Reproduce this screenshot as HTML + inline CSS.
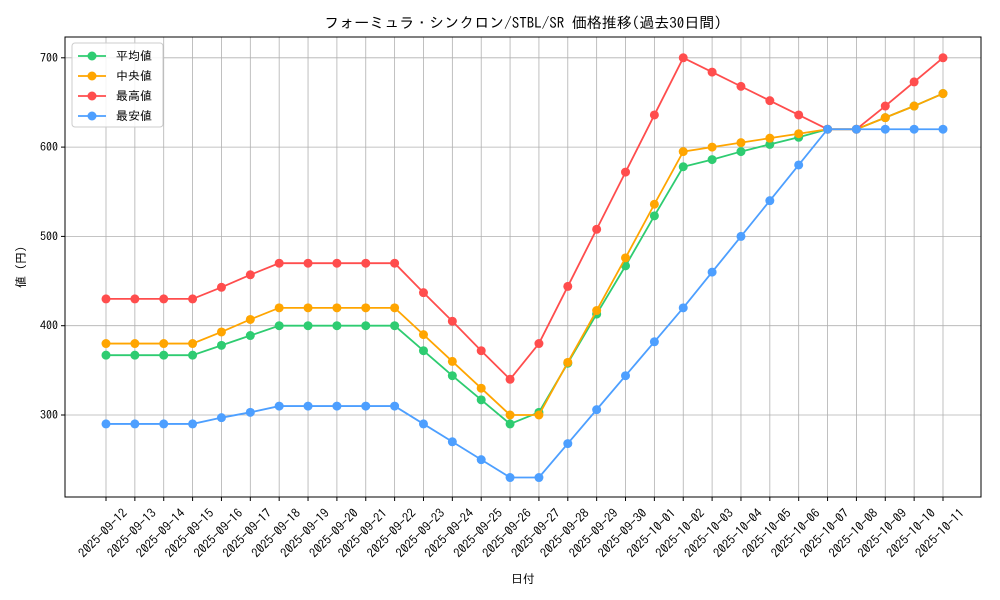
<!DOCTYPE html>
<html><head><meta charset="utf-8"><style>
html,body{margin:0;padding:0;background:#fff;}
svg{display:block;font-family:"IPAGothic","Noto Sans CJK JP",sans-serif;}
</style></head><body>
<svg id="chart" width="1000" height="600" viewBox="0 0 1000 600" xmlns="http://www.w3.org/2000/svg"></svg>
<script>
const dates=["2025-09-12","2025-09-13","2025-09-14","2025-09-15","2025-09-16","2025-09-17","2025-09-18","2025-09-19","2025-09-20","2025-09-21","2025-09-22","2025-09-23","2025-09-24","2025-09-25","2025-09-26","2025-09-27","2025-09-28","2025-09-29","2025-09-30","2025-10-01","2025-10-02","2025-10-03","2025-10-04","2025-10-05","2025-10-06","2025-10-07","2025-10-08","2025-10-09","2025-10-10","2025-10-11"];
const avgVals=[367,367,367,367,378,389,400,400,400,400,400,372,344,317,290,303,358,413,467,523,578,586,595,603,611,620,620,633,646,660];
const medVals=[380,380,380,380,393,407,420,420,420,420,420,390,360,330,300,300,359,417,476,536,595,600,605,610,615,620,620,633,646,660];
const highVals=[430,430,430,430,443,457,470,470,470,470,470,437,405,372,340,380,444,508,572,636,700,684,668,652,636,620,620,646,673,700];
const lowVals=[290,290,290,290,297,303,310,310,310,310,310,290,270,250,230,230,268,306,344,382,420,460,500,540,580,620,620,620,620,620];
const yTicks=[300,400,500,600,700];
const seriesNames=["平均値","中央値","最高値","最安値"];

const NS="http://www.w3.org/2000/svg";
const svg=document.getElementById('chart');
const L=65,R=981,T=37,B=497;
const x0=106,x1=943;
const xScale=i=>x0+(x1-x0)*i/(dates.length-1);
const yScale=v=>415-(v-300)*0.893;
function mk(tag,attrs,parent){const e=document.createElementNS(NS,tag);for(const k in attrs)e.setAttribute(k,attrs[k]);(parent||svg).appendChild(e);return e;}

const grid=mk('g',{});


dates.forEach((d,i)=>{const x=xScale(i);mk('line',{x1:x,x2:x,y1:T,y2:B,stroke:'#b0b0b0','stroke-width':0.8},grid);});
yTicks.forEach(v=>{const y=yScale(v);mk('line',{x1:L,x2:R,y1:y,y2:y,stroke:'#b0b0b0','stroke-width':0.8},grid);});
const frame=mk('rect',{x:L,y:T,width:R-L,height:B-T,fill:'none',stroke:'#000','stroke-width':1});


yTicks.forEach(v=>{const y=yScale(v);mk('line',{x1:L-4,x2:L,y1:y,y2:y,stroke:'#000'});
 const t=mk('text',{x:L-7,y:y+4,'text-anchor':'end','font-size':12});t.textContent=v;
 
 });
dates.forEach((d,i)=>{const x=xScale(i);mk('line',{x1:x,x2:x,y1:B,y2:B+4,stroke:'#000'});
 const ax=x+22, ay=B+17;
 const t=mk('text',{x:ax,y:ay,'text-anchor':'end','font-size':12.5,transform:`rotate(-45 ${ax} ${ay})`});t.textContent=d;
 
 });
let t=mk('text',{x:523,y:28,'text-anchor':'middle','font-size':15});t.textContent="フォーミュラ・シンクロン/STBL/SR 価格推移(過去30日間)";


t=mk('text',{x:523,y:583,'text-anchor':'middle','font-size':12});t.textContent="日付";


t=mk('text',{x:25,y:267,'text-anchor':'middle','font-size':12,transform:'rotate(-90 25 267)'});t.textContent="値 (円)";



const series=[[avgVals,'#2ecc71','average'],[medVals,'#ffa500','median'],[highVals,'#ff4d4d','high'],[lowVals,'#4d9fff','low']];
series.forEach(([vals,c,n])=>{
 const g=mk('g',{});
 
 
 mk('polyline',{points:vals.map((v,i)=>xScale(i)+','+yScale(v)).join(' '),fill:'none',stroke:c,'stroke-width':1.8},g);
 vals.forEach((v,i)=>{const p=mk('circle',{cx:xScale(i),cy:yScale(v),r:4.5,fill:c},g);
  
  });
});
const lg=mk('g',{});


mk('rect',{x:72,y:43,width:91,height:84,rx:3,fill:'#fff','fill-opacity':0.85,stroke:'#ccc'},lg);
series.forEach(([v,c,n],i)=>{const y=56+i*20;
 const e=mk('g',{},lg);
 
 
 mk('line',{x1:78,x2:106,y1:y,y2:y,stroke:c,'stroke-width':1.8},e);
 mk('circle',{cx:92,cy:y,r:4.5,fill:c},e);
 const tt=mk('text',{x:116,y:y+4,'font-size':12},e);tt.textContent=seriesNames[i];});
</script>
</body></html>
